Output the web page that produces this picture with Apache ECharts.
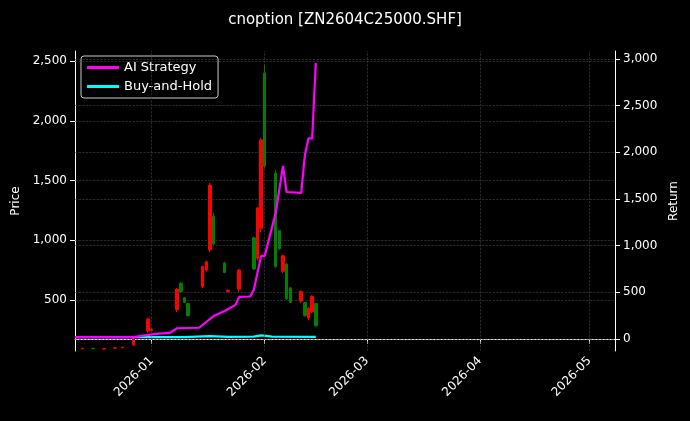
<!DOCTYPE html><html><head><meta charset="utf-8">
<script src="https://cdn.jsdelivr.net/npm/echarts@6/dist/echarts.min.js"></script>
<style>html,body{margin:0;background:#000}#c{width:690px;height:421px}</style></head><body><div id="c"></div>
<script>
// candles: [date, open, close, low, high]
const candleDates = ['2025-12-13','2025-12-16','2025-12-19','2025-12-22','2025-12-24','2025-12-27','2025-12-31','2026-01-01','2026-01-08','2026-01-09','2026-01-10','2026-01-11','2026-01-15','2026-01-16','2026-01-17','2026-01-18','2026-01-21','2026-01-22','2026-01-25','2026-01-29','2026-01-30','2026-01-31','2026-02-01','2026-02-04','2026-02-05','2026-02-06','2026-02-07','2026-02-08','2026-02-11','2026-02-12','2026-02-13','2026-02-14','2026-02-15'];
const candleOpen  = [92,95,90,96,100,125,240,245,420,640,520,470,610,750,920,1200,810,570,590,1020,850,1100,2400,1560,1080,740,800,600,490,480,350,400,470];
const candleClose = [96,92,94,100,104,175,340,255,590,570,480,370,780,820,1460,970,730,580,750,760,1270,1840,1620,780,930,870,510,480,570,370,430,530,285];
const candleLow   = [88,88,86,92,96,115,224,240,400,560,475,360,600,735,900,960,725,565,570,750,830,1070,1600,770,920,725,500,475,475,360,330,390,275];
const candleHigh  = [100,100,98,104,108,180,350,260,600,650,525,475,790,830,1480,1230,820,590,760,1030,1280,1855,2470,1590,1085,880,810,610,580,485,440,540,475];

const aiDates = ['2025-12-11','2025-12-27','2026-01-02','2026-01-06','2026-01-08','2026-01-14','2026-01-18','2026-01-21','2026-01-24','2026-01-25','2026-01-28','2026-01-29','2026-01-31','2026-02-01','2026-02-04','2026-02-06','2026-02-07','2026-02-11','2026-02-12','2026-02-13','2026-02-14','2026-02-15'];
const aiReturn = [20,20,55,65,115,120,245,300,365,450,455,525,890,890,1350,1855,1575,1565,1970,2150,2150,2960];

const bhDates = ['2025-12-11','2026-01-10','2026-01-17','2026-01-22','2026-01-29','2026-01-31','2026-02-03','2026-02-15'];
const bhReturn = [20,20,30,22,25,38,25,22];

const priceTicks = [500,1000,1500,2000,2500];
const returnTicks = [0,500,1000,1500,2000,2500,3000];
const monthTicks = ['2026-01-01','2026-02-01','2026-03-01','2026-04-01','2026-05-01'];

const ts = d => Date.UTC(+d.slice(0,4), +d.slice(5,7)-1, +d.slice(8,10));
const candleData = candleDates.map((d,i)=>[ts(d),candleOpen[i],candleClose[i],candleLow[i],candleHigh[i]]);
const monthTs = monthTicks.map(ts);
const chart = echarts.init(document.getElementById('c'));
const txt = {color:'#fff',fontFamily:'DejaVu Sans',fontSize:12};
const gl = {color:'#444',type:'dashed',width:0.6};
chart.setOption({
  backgroundColor:'#000', animation:false,
  title:{text:'cnoption [ZN2604C25000.SHF]',left:'center',top:8,textStyle:{color:'#fff',fontFamily:'DejaVu Sans',fontSize:15,fontWeight:'normal'}},
  legend:{left:81,top:56,orient:'vertical',itemGap:6,itemWidth:32,itemHeight:3,backgroundColor:'#000',borderColor:'#ccc',borderWidth:1,borderRadius:3,padding:[5,6],textStyle:{color:'#fff',fontFamily:'DejaVu Sans',fontSize:13},data:[{name:'AI Strategy',icon:'rect'},{name:'Buy-and-Hold',icon:'rect'}]},
  grid:{left:75,right:75,top:51,bottom:70},
  xAxis:{type:'value',min:ts('2025-12-11'),max:ts('2026-05-08'),
    axisLine:{lineStyle:{color:'#fff'}},axisTick:{show:true,customValues:monthTs,lineStyle:{color:'#fff'}},
    axisLabel:Object.assign({},txt,{rotate:45,customValues:monthTs,formatter:v=>{const d=new Date(v);return d.getUTCFullYear()+'-'+String(d.getUTCMonth()+1).padStart(2,'0');}}),
    splitLine:{show:false}},
  yAxis:[
    {type:'value',min:73,max:2584,name:'Price',nameLocation:'middle',nameGap:48,nameTextStyle:txt,
     axisLine:{show:true,lineStyle:{color:'#fff'}},axisTick:{show:true,customValues:priceTicks},axisLabel:Object.assign({},txt,{customValues:priceTicks}),splitLine:{show:false}},
    {type:'value',min:-129,max:3086,name:'Return',nameLocation:'middle',nameGap:48,nameTextStyle:txt,position:'right',
     axisLine:{show:true,lineStyle:{color:'#fff'}},axisTick:{show:true,customValues:returnTicks},axisLabel:Object.assign({},txt,{customValues:returnTicks}),splitLine:{show:false}}
  ],
  series:[
    {type:'candlestick',yAxisIndex:0,data:candleData,barWidth:3,itemStyle:{color:'#ff0000',color0:'#008000',borderColor:'#ff0000',borderColor0:'#008000',borderWidth:1},
     markLine:{silent:true,symbol:'none',label:{show:false},lineStyle:gl,data:priceTicks.map(v=>({yAxis:v})).concat(monthTs.map(v=>({xAxis:v})))}},
    {name:'AI Strategy',type:'line',yAxisIndex:1,data:aiDates.map((d,i)=>[ts(d),aiReturn[i]]),showSymbol:false,lineStyle:{color:'#ff00ff',width:2.2},itemStyle:{color:'#ff00ff'},z:5,
     markLine:{silent:true,symbol:'none',label:{show:false},lineStyle:gl,data:returnTicks.map(v=>({yAxis:v}))}},
    {name:'Buy-and-Hold',type:'line',yAxisIndex:1,data:bhDates.map((d,i)=>[ts(d),bhReturn[i]]),showSymbol:false,lineStyle:{color:'#00ffff',width:2.2},itemStyle:{color:'#00ffff'},z:4}
  ]
});
</script></body></html>
